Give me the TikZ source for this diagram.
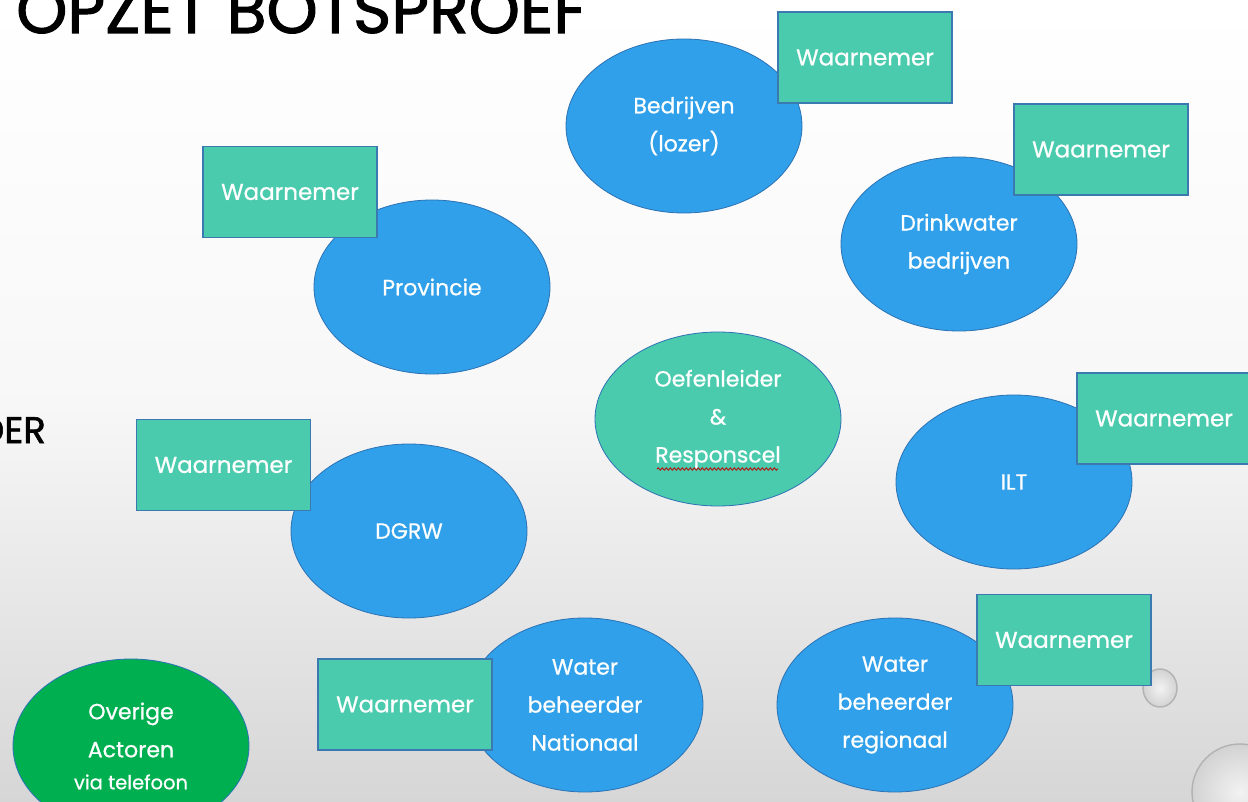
\documentclass[tikz,border=0pt]{standalone}
\usepackage{fontspec}
\setmainfont{Poppins}
\newfontfamily\lblfont{Poppins}[FakeBold=0.7]
\newfontfamily\titlefont{Poppins}[FakeBold=1.6]
\usetikzlibrary{shapes.geometric,decorations.pathmorphing,calc}
\definecolor{bubblue}{RGB}{47,160,233}
\definecolor{bubedge}{RGB}{44,114,180}
\definecolor{tealfill}{RGB}{75,203,173}
\definecolor{tealedge}{RGB}{58,122,176}
\definecolor{greenfill}{RGB}{0,176,80}
\definecolor{bgbottom}{RGB}{214,214,214}
\tikzset{
  actor/.style={ellipse, draw=bubedge, line width=0.8pt, fill=bubblue, minimum width=236pt, minimum height=174pt, inner sep=0pt, text=white, align=center, font=\lblfont\fontsize{22}{38}\selectfont},
  leader/.style={actor, fill=tealfill, minimum width=246pt},
  other/.style={actor, fill=greenfill},
  watcher/.style={rectangle, draw=tealedge, line width=1.3pt, fill=tealfill, minimum width=174pt, minimum height=91pt, inner sep=0pt, text=white, font=\lblfont\fontsize{23}{26}\selectfont},
  drop/.style={draw=gray!60, line width=1.4pt, inner color=gray!10, outer color=gray!35},
}
\begin{document}
\begin{tikzpicture}[x=1pt,y=-1pt]
\path[use as bounding box] (0,0) rectangle (1248,802);
\clip (0,0) rectangle (1248,802);
\shade[shading angle=20, top color=white, bottom color=bgbottom, middle color=gray!6] (0,0) rectangle (1248,802);
% title (partly cut)
\node[anchor=base west, inner sep=0pt] (title) at (16,33) {\resizebox{570pt}{!}{\titlefont\fontsize{60}{60}\selectfont OPZET BOTSPROEF}};
\node[anchor=base east, inner sep=0pt] (der) at (46,443) {\titlefont\fontsize{37}{37}\selectfont DER};
% drops
\shade[drop] (1160,688) ellipse (17pt and 19pt);
\shade[drop] (1240,792) circle (48pt);
% actors
\node[actor] (bedr) at (684,126) {Bedrijven\\(lozer)};
\node[actor] (drink) at (959,244) {Drinkwater\\bedrijven};
\node[actor] (prov) at (432,287) {Provincie};
\node[leader] (oef) at (718,419) {Oefenleider\\\&\\Responscel};
\node[actor] (ilt) at (1014,482) {ILT};
\node[actor] (dgrw) at (409,531) {DGRW};
\node[actor] (wbn) at (585,705) {Water\\beheerder\\Nationaal};
\node[actor] (wbr) at (895,705) {Water\\beheerder\\regionaal};
\node[other] (ov) at (131,746) {Overige\\Actoren\\[-6pt]{\fontsize{19.5}{22}\selectfont via telefoon}};
% spell underline
\draw[red!75!black, line width=0.8pt, decorate, decoration={snake, amplitude=1.2pt, segment length=4pt}] ($(oef.center)+(-61,50)$) -- ($(oef.center)+(60,50)$);
% observers
\node[watcher] (w1) at (865,57.5) {Waarnemer};
\node[watcher] (w2) at (1101,149.5) {Waarnemer};
\node[watcher] (w3) at (290,192) {Waarnemer};
\node[watcher] (w4) at (1164,418.5) {Waarnemer};
\node[watcher] (w5) at (223.5,465) {Waarnemer};
\node[watcher] (w6) at (405,704.5) {Waarnemer};
\node[watcher] (w7) at (1064,640) {Waarnemer};
\end{tikzpicture}
\end{document}
